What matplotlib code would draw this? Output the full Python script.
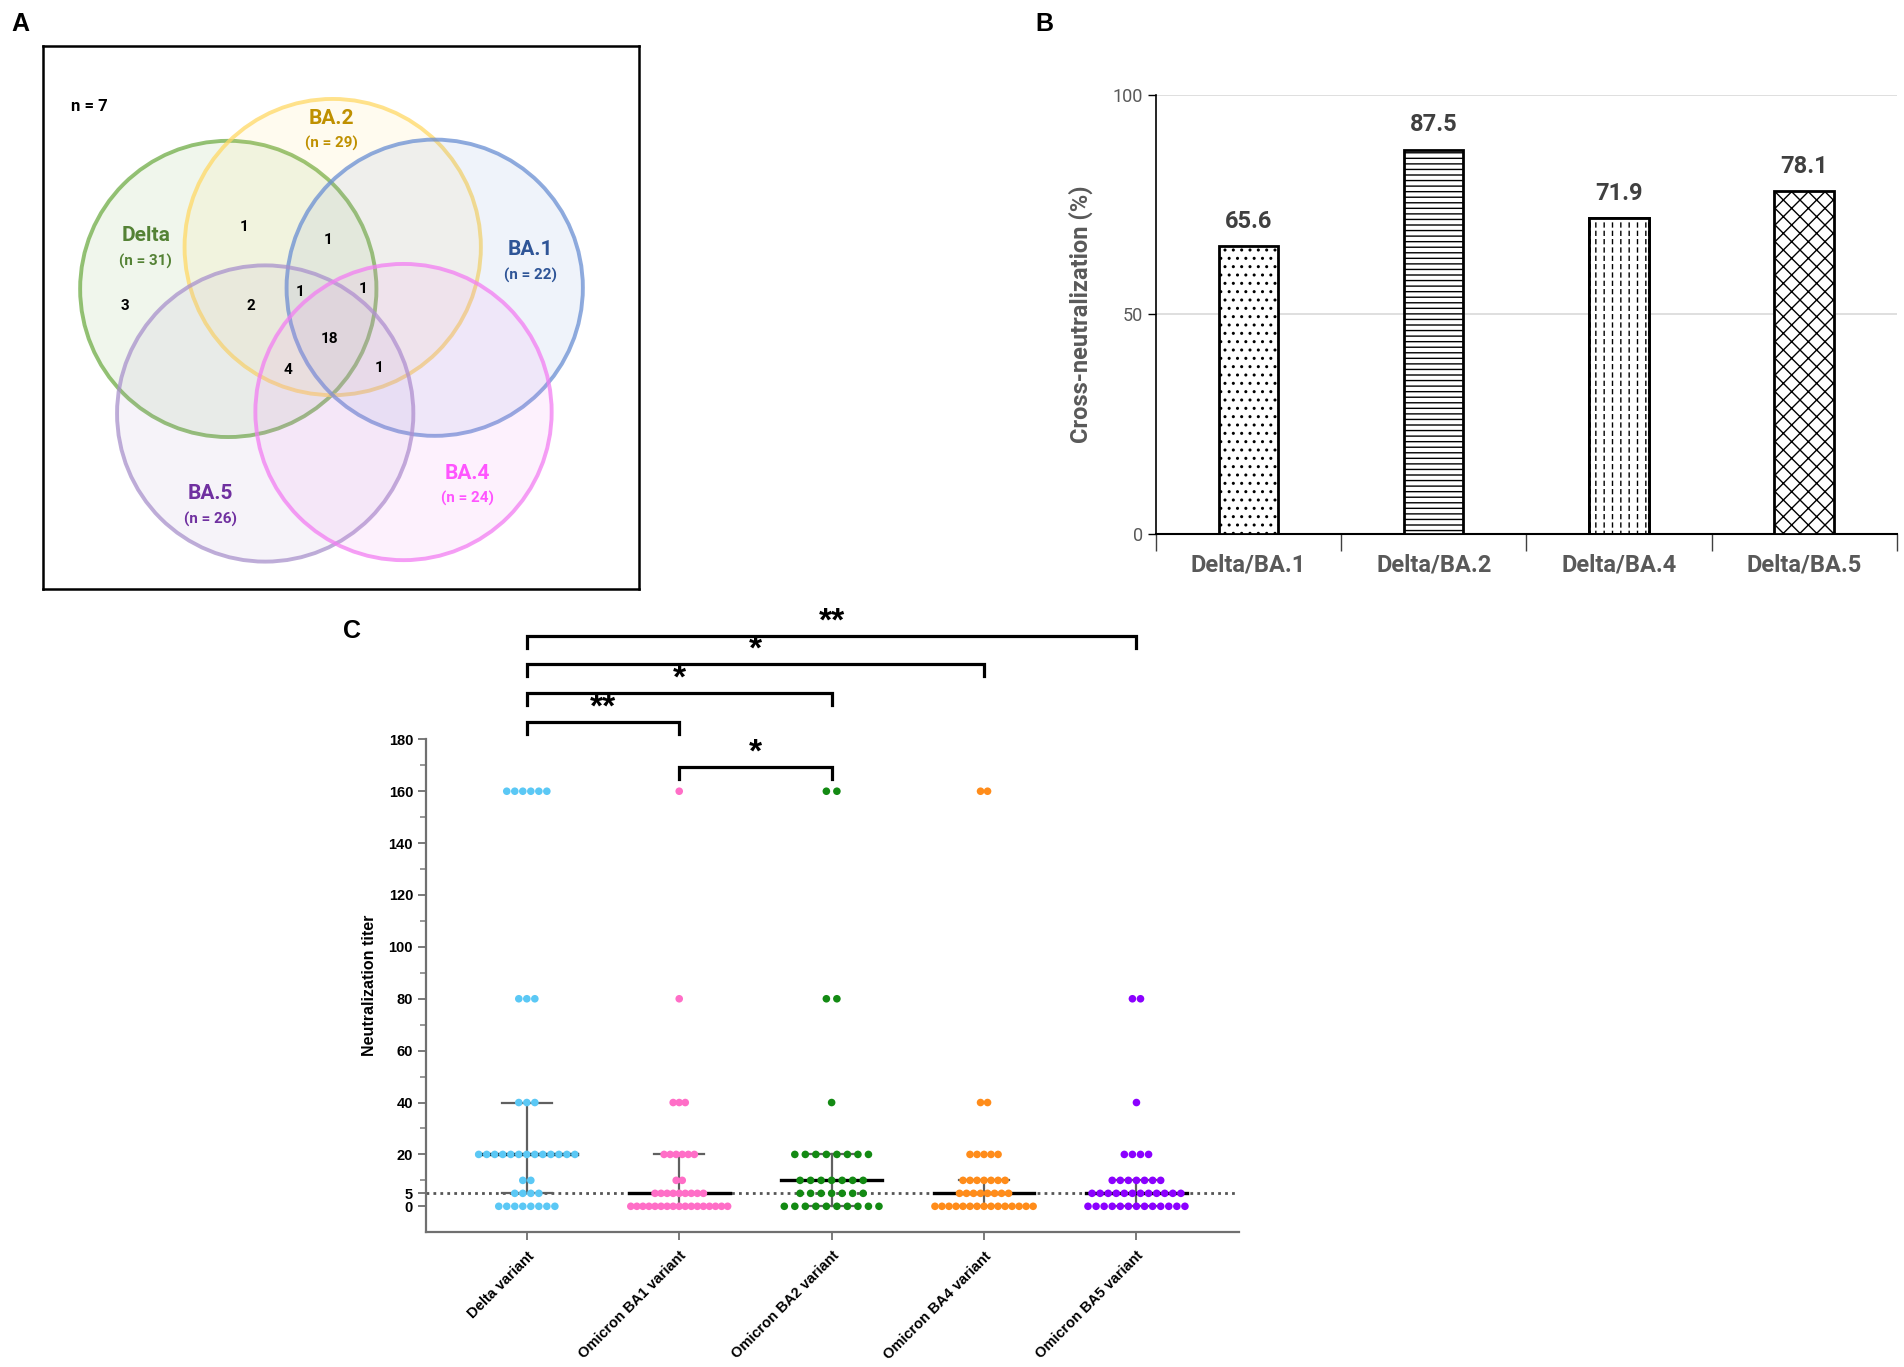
import numpy as np
import matplotlib.pyplot as plt
from matplotlib.patches import Circle

plt.rcParams['hatch.linewidth'] = 1.0

# ---- panel A: Venn diagram ----
venn_sets = ['Delta', 'BA.2', 'BA.1', 'BA.5', 'BA.4']
venn_sizes = [31, 29, 22, 26, 24]
venn_edge = ['#70AD47', '#FFD966', '#6A8FD3', '#A992CC', '#F27EF2']
venn_text = ['#548235', '#BF9000', '#2F5597', '#7030A0', '#FF55FF']
venn_outside = 7
venn_counts = [1, 1, 3, 2, 1, 1, 18, 4, 1]

# ---- panel B: cross-neutralization ----
bar_labels = ['Delta/BA.1', 'Delta/BA.2', 'Delta/BA.4', 'Delta/BA.5']
bar_values = [65.6, 87.5, 71.9, 78.1]

# ---- panel C: neutralization titers ----
groups = ['Delta variant', 'Omicron BA1 variant', 'Omicron BA2 variant',
          'Omicron BA4 variant', 'Omicron BA5 variant']
titer_levels = [0, 5, 10, 20, 40, 80, 160]
delta_counts = [8, 4, 2, 13, 3, 3, 6]
ba1_counts = [17, 9, 2, 6, 3, 1, 1]
ba2_counts = [10, 7, 7, 8, 1, 2, 2]
ba4_counts = [15, 8, 7, 5, 2, 0, 2]
ba5_counts = [13, 12, 7, 4, 1, 2, 0]
group_colors = ['#5BC8F5', '#FF6EC7', '#138A13', '#FF8C1A', '#8B00FF']
sig_pairs = [(0, 4, '**'), (0, 3, '*'), (0, 2, '*'), (0, 1, '**'), (1, 2, '*')]

# layout helpers (reference drawn on a 1568 x 1126 grid)
W0, H0 = 1568.0, 1126.0
SANS = 'Roboto'


def box(x0, y0, x1, y1):
    return [x0 / W0, 1 - y1 / H0, (x1 - x0) / W0, (y1 - y0) / H0]


fig = plt.figure(figsize=(19.04, 13.67), dpi=100)

for letter, (px, py) in zip('ABC', [(17, 20), (860, 20), (290, 520)]):
    fig.text(px / W0, 1 - py / H0, letter, fontsize=18, fontweight='bold',
             family='Liberation Sans', ha='center', va='center')

# ================= A =================
axA = fig.add_axes(box(35, 38, 526, 485))
axA.set_xlim(0, 491)
axA.set_ylim(447, 0)
axA.set_xticks([])
axA.set_yticks([])
for sp in axA.spines.values():
    sp.set_linewidth(1.8)
    sp.set_color('black')

circle_xy = [(153, 200), (239, 165.5), (323, 199), (183.4, 302.6), (297.3, 301.4)]
name_xy = [(85, 156), (237.7, 59.3), (402, 167.7), (138, 368.8), (350, 352)]
count_xy = [(166, 148.8), (235, 159.8), (68, 213.7), (172, 214.4), (212, 202.4),
            (264, 200), (236, 241), (202, 266.7), (277, 264.8)]
radius = 122

for (cx, cy), ec in zip(circle_xy, venn_edge):
    axA.add_patch(Circle((cx, cy), radius, facecolor=ec, alpha=0.10, edgecolor='none'))
    axA.add_patch(Circle((cx, cy), radius, facecolor='none', edgecolor=ec,
                         lw=2.8, alpha=0.75))

for name, n, (tx, ty), tc in zip(venn_sets, venn_sizes, name_xy, venn_text):
    axA.text(tx, ty, name, color=tc, fontsize=15, fontweight='bold', family=SANS,
             ha='center', va='center')
    axA.text(tx, ty + 21, f'(n = {n})', color=tc, fontsize=11, fontweight='bold',
             family=SANS, ha='center', va='center')

axA.text(39, 49.8, f'n = {venn_outside}', fontsize=12, fontweight='bold', family=SANS,
         ha='center', va='center')
for c, (tx, ty) in zip(venn_counts, count_xy):
    axA.text(tx, ty, str(c), fontsize=11, fontweight='bold', family=SANS,
             ha='center', va='center')

# ================= B =================
axB = fig.add_axes(box(952, 78, 1562, 440))
hatches = ['..', '---', '||', 'xx']
xpos = np.arange(len(bar_labels))
bars = axB.bar(xpos, bar_values, width=0.32, color='white', edgecolor='black',
               linewidth=2, zorder=3)
for b, h in zip(bars, hatches):
    b.set_hatch(h)
# white horizontal stripes over the third bar turn its vertical lines into dashes
cut = axB.bar(xpos[2], bar_values[2], width=0.32, color='none', edgecolor='white',
              linewidth=0, hatch='--', zorder=4)[0]
if hasattr(cut, 'set_hatch_linewidth'):
    cut.set_hatch_linewidth(2.2)
axB.bar(xpos[2], bar_values[2], width=0.32, color='none', edgecolor='black',
        linewidth=2, zorder=5)
for x, v in zip(xpos, bar_values):
    axB.text(x, v + 3, f'{v:.1f}', ha='center', va='bottom', fontsize=17,
             fontweight='bold', color='#404040', family=SANS)
axB.set_xlim(-0.5, 3.5)
axB.set_ylim(0, 100)
axB.set_yticks([0, 50, 100])
axB.yaxis.grid(True, color='#D9D9D9', lw=1.2)
axB.set_axisbelow(True)
axB.set_xticks(np.arange(-0.5, 4, 1.0))
axB.set_xticklabels([])
axB.set_xticks(xpos, minor=True)
axB.set_xticklabels(bar_labels, minor=True)
axB.tick_params(axis='x', which='major', length=12, width=1, color='#404040')
axB.tick_params(axis='x', which='minor', length=0, pad=14, labelsize=17,
                labelcolor='#595959')
for lab in axB.get_xticklabels(minor=True):
    lab.set_fontweight('bold')
    lab.set_family(SANS)
axB.tick_params(axis='y', length=6, width=1, labelsize=13, labelcolor='#595959')
for lab in axB.get_yticklabels():
    lab.set_family(SANS)
axB.spines['top'].set_visible(False)
axB.spines['right'].set_visible(False)
axB.spines['left'].set_linewidth(1.2)
axB.spines['bottom'].set_linewidth(1.5)
axB.set_ylabel('Cross-neutralization (%)', fontsize=17, fontweight='bold',
               color='#595959', family=SANS, labelpad=14)

# ================= C =================
axC = fig.add_axes(box(351, 609, 1020, 1015))
counts_all = [delta_counts, ba1_counts, ba2_counts, ba4_counts, ba5_counts]
spacing = [0.0526, 0.0397, 0.069, 0.046, 0.053]

axC.axhline(5, color='#555555', ls=(0, (1, 1.5)), lw=2, zorder=1)

for gi, (cnts, col, dx) in enumerate(zip(counts_all, group_colors, spacing)):
    values = np.repeat(titer_levels, cnts)
    xs, ys = [], []
    for lvl, n in zip(titer_levels, cnts):
        offs = (np.arange(n) - (n - 1) / 2) * dx
        xs.extend(gi + offs)
        ys.extend([lvl] * n)
    q1, med, q3 = np.percentile(values, [25, 50, 75])
    axC.plot([gi, gi], [q1, q3], color='#606060', lw=1.6, zorder=2)
    for q in (q1, q3):
        axC.plot([gi - 0.165, gi + 0.165], [q, q], color='#606060', lw=1.6, zorder=2)
    axC.plot([gi - 0.33, gi + 0.33], [med, med], color='black', lw=2.4, zorder=2)
    axC.scatter(xs, ys, s=30, color=col, edgecolors='none', zorder=3)

bracket_y = [219.7, 209, 197.8, 186.5, 169.2]
for (a, b, star), yb in zip(sig_pairs, bracket_y):
    axC.plot([a, a, b, b], [yb - 4.5, yb, yb, yb - 4.5], color='black', lw=2.3,
             clip_on=False, solid_joinstyle='miter')
    axC.text((a + b) / 2, yb - 0.5, star, ha='center', va='bottom', fontsize=24,
             fontweight='bold', family='Liberation Sans')

axC.set_xlim(-0.66, 4.67)
axC.set_ylim(-10, 180)
axC.set_yticks([0, 5, 20, 40, 60, 80, 100, 120, 140, 160, 180])
axC.set_yticks(np.arange(10, 180, 20), minor=True)
axC.set_xticks(range(len(groups)))
axC.set_xticklabels(groups, rotation=45, ha='right', rotation_mode='anchor')
for lab in axC.get_xticklabels() + axC.get_yticklabels():
    lab.set_fontweight('bold')
    lab.set_family('Liberation Sans')
    lab.set_fontsize(10.5)
axC.tick_params(axis='both', which='major', length=6, width=1.3, color='#707070')
axC.tick_params(axis='y', which='minor', length=4, width=1.3, color='#909090')
axC.tick_params(axis='x', pad=6)
axC.spines['top'].set_visible(False)
axC.spines['right'].set_visible(False)
for s in ('left', 'bottom'):
    axC.spines[s].set_color('#707070')
    axC.spines[s].set_linewidth(1.6)
axC.set_ylabel('Neutralization titer', fontsize=11.5, fontweight='bold',
               family='Liberation Sans', labelpad=8)

fig.savefig('out.png', dpi=100)
